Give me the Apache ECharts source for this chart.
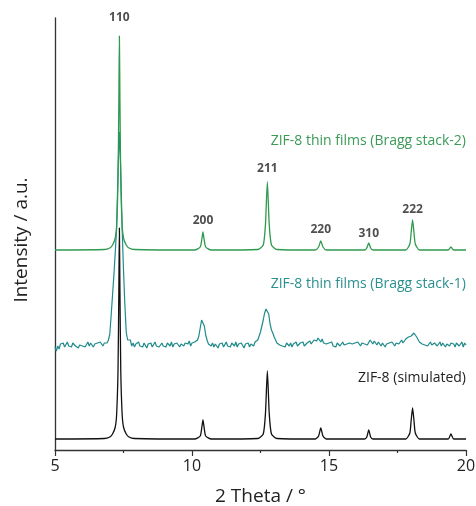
<!DOCTYPE html>
<html>
<head>
<meta charset="utf-8">
<script src="https://cdn.jsdelivr.net/npm/echarts@6/dist/echarts.min.js"></script>
<style>
    html, body { margin: 0; padding: 0; background: #fff; }
    #xrd { width: 476px; height: 506px; }
</style>
</head>
<body>
<div id="xrd"></div>
<script>
// 2 theta positions for the smooth traces (simulated and Bragg stack-2)
var smoothX = [
    5.0, 6.8, 7.0, 7.1, 7.2, 7.25, 7.3, 7.33, 7.35, 7.37, 7.4, 7.45, 7.5, 7.6, 7.7, 7.9,
    10.1, 10.3, 10.36, 10.4, 10.44, 10.5, 10.7,
    12.4, 12.6, 12.68, 12.75, 12.82, 12.9, 13.1,
    14.5, 14.62, 14.7, 14.78, 14.9,
    16.3, 16.38, 16.45, 16.52, 16.6,
    17.8, 17.95, 18.0, 18.05, 18.1, 18.15, 18.3,
    19.35, 19.45, 19.55, 20.0
];
var greenY = [
    200, 200.5, 202, 205, 212, 225, 270, 350, 414, 350, 270, 225, 212, 205, 202, 200.5,
    200, 203, 211, 218, 211, 203, 200,
    200.5, 205, 225, 268, 225, 205, 200.5,
    200, 203, 209, 203, 200,
    200, 202, 207, 202, 200,
    200, 206, 218, 230, 218, 206, 200,
    200, 203, 200, 200
];
var blackY = [
    11, 11.5, 13, 16, 23, 36, 80, 160, 222, 160, 80, 36, 23, 16, 13, 11.5,
    11, 14, 23, 30, 23, 14, 11,
    11.5, 16, 36, 79, 36, 16, 11.5,
    11, 14, 22, 14, 11,
    11, 13, 20, 13, 11,
    11, 17, 30, 42, 30, 17, 11,
    11, 16, 11, 11
];

// Bragg stack-1 measured pattern, 5.00 .. 20.00 step 0.05
var tealStart = 5.0;
var tealStep = 0.05;
var tealY = [
    103, 99, 104, 101, 106, 104, 107, 103, 105, 108, 104, 106, 103, 107, 105, 104, 106, 102, 105, 107,
    104, 106, 103, 105, 108, 104, 107, 105, 103, 106, 104, 107, 105, 108, 106, 104, 107, 109, 107, 110,
    116, 135, 155, 175, 198, 222, 280, 318, 280, 222, 180, 145, 118, 110, 108, 110, 104, 107, 103, 106,
    105, 108, 104, 106, 103, 107, 105, 102, 106, 104, 107, 103, 105, 108, 104, 106, 103, 105, 107, 104,
    106, 103, 107, 105, 104, 108, 103, 106, 104, 107, 105, 103, 106, 108, 104, 107, 105, 106, 109, 104,
    107, 105, 108, 106, 110, 114, 122, 130, 128, 124, 115, 110, 106, 108, 104, 107, 103, 106, 105, 102,
    106, 104, 107, 103, 105, 108, 104, 106, 103, 107, 105, 104, 108, 103, 106, 104, 107, 105, 102, 106,
    104, 107, 103, 106, 105, 104, 108, 106, 110, 114, 118, 124, 130, 137, 141, 143, 136, 126, 120, 117,
    113, 110, 107, 108, 105, 107, 104, 106, 103, 107, 105, 104, 107, 103, 106, 105, 108, 104, 106, 107,
    105, 108, 104, 106, 107, 105, 109, 106, 108, 110, 111, 109, 112, 110, 108, 111, 107, 109, 106, 108,
    107, 105, 108, 104, 106, 103, 107, 105, 104, 106, 108, 105, 103, 106, 104, 107, 105, 106, 104, 107,
    105, 108, 106, 104, 107, 109, 106, 108, 105, 107, 110, 108, 106, 109, 107, 105, 108, 106, 104, 107,
    105, 103, 106, 104, 107, 105, 108, 106, 104, 107, 109, 106, 108, 110, 107, 109, 111, 110, 113, 112,
    114, 116, 117, 115, 113, 111, 108, 110, 106, 108, 105, 107, 104, 106, 108, 105, 103, 107, 105, 104,
    106, 108, 104, 107, 105, 103, 106, 108, 104, 107, 105, 106, 103, 107, 109, 104, 106, 108, 103, 107,
    105
];

// reflections marked above the Bragg stack-2 trace
var peakNames = ['110', '200', '211', '220', '310', '222'];
var peakPos = [7.35, 10.4, 12.75, 14.7, 16.45, 18.05];
var peakTop = [414, 218, 268, 209, 207, 230];
var peakGap = [12, 5, 7, 5, 3, 4];

var xTicks = [5, 10, 15, 20];

var FONT = '"Open Sans", "Noto Sans", sans-serif';
var GREEN = '#2f9a4f';
var TEAL = '#1f8a8a';
var BLACK = '#111111';

function pairs(xs, ys) {
    var out = [];
    for (var i = 0; i < ys.length; i++) {
        out.push([xs[i], ys[i]]);
    }
    return out;
}

var tealData = [];
for (var i = 0; i < tealY.length; i++) {
    tealData.push([+(tealStart + i * tealStep).toFixed(2), tealY[i]]);
}

var labelData = [];
for (var k = 0; k < peakNames.length; k++) {
    labelData.push({
        name: peakNames[k],
        value: [peakPos[k], peakTop[k]],
        label: { distance: peakGap[k] }
    });
}

var myChart = echarts.init(document.getElementById('xrd'));

var option = {
    animation: false,
    backgroundColor: '#fff',
    textStyle: { fontFamily: FONT },
    grid: { left: 55, right: 10, top: 18, bottom: 56, outerBoundsMode: 'none', containLabel: false },
    xAxis: {
        type: 'value',
        min: 5,
        max: 20,
        interval: 5,
        name: '2 Theta / °',
        nameLocation: 'middle',
        nameGap: 37,
        nameTextStyle: { fontSize: 19, color: '#222', fontFamily: FONT },
        axisLine: { show: true, onZero: false, lineStyle: { color: '#333', width: 1.3 } },
        axisTick: { show: true, length: 6, lineStyle: { color: '#333', width: 1.2 } },
        minorTick: { show: true, splitNumber: 2, length: 3, lineStyle: { color: '#333', width: 1.2 } },
        axisLabel: {
            fontSize: 16,
            color: '#222',
            margin: 8,
            formatter: function (v) {
                return xTicks.indexOf(v) > -1 ? String(v) : '';
            }
        },
        splitLine: { show: false }
    },
    yAxis: {
        type: 'value',
        min: 0,
        max: 432,
        name: 'Intensity / a.u.',
        nameLocation: 'middle',
        nameGap: 24,
        nameRotate: 90,
        nameTextStyle: { fontSize: 19, color: '#222', fontFamily: FONT, padding: [0, 12, 0, 0] },
        axisLine: { show: true, lineStyle: { color: '#333', width: 1.3 } },
        axisTick: { show: false },
        axisLabel: { show: false },
        splitLine: { show: false }
    },
    graphic: [
        {
            type: 'text', right: 10, top: 134,
            style: { text: 'ZIF-8 thin films (Bragg stack-2)', fill: '#3a9a56', font: '14px ' + FONT }
        },
        {
            type: 'text', right: 10, top: 277,
            style: { text: 'ZIF-8 thin films (Bragg stack-1)', fill: '#2a8f8f', font: '14px ' + FONT }
        },
        {
            type: 'text', right: 10, top: 371,
            style: { text: 'ZIF-8 (simulated)', fill: '#222', font: '14px ' + FONT }
        }
    ],
    series: [
        {
            name: 'Bragg stack-1',
            type: 'line',
            data: tealData,
            showSymbol: false,
            lineStyle: { color: TEAL, width: 1.2 },
            z: 2
        },
        {
            name: 'simulated',
            type: 'line',
            data: pairs(smoothX, blackY),
            showSymbol: false,
            smooth: 0.2,
            lineStyle: { color: BLACK, width: 1.3 },
            z: 3
        },
        {
            name: 'Bragg stack-2',
            type: 'line',
            data: pairs(smoothX, greenY),
            showSymbol: false,
            smooth: 0.2,
            lineStyle: { color: GREEN, width: 1.3 },
            z: 4
        },
        {
            name: 'hkl',
            type: 'scatter',
            data: labelData,
            symbolSize: 0,
            silent: true,
            label: {
                show: true,
                position: 'top',
                formatter: '{b}',
                fontSize: 12,
                fontWeight: 'bold',
                color: '#222',
                fontFamily: FONT
            },
            z: 5
        }
    ]
};

myChart.setOption(option);
</script>
</body>
</html>
